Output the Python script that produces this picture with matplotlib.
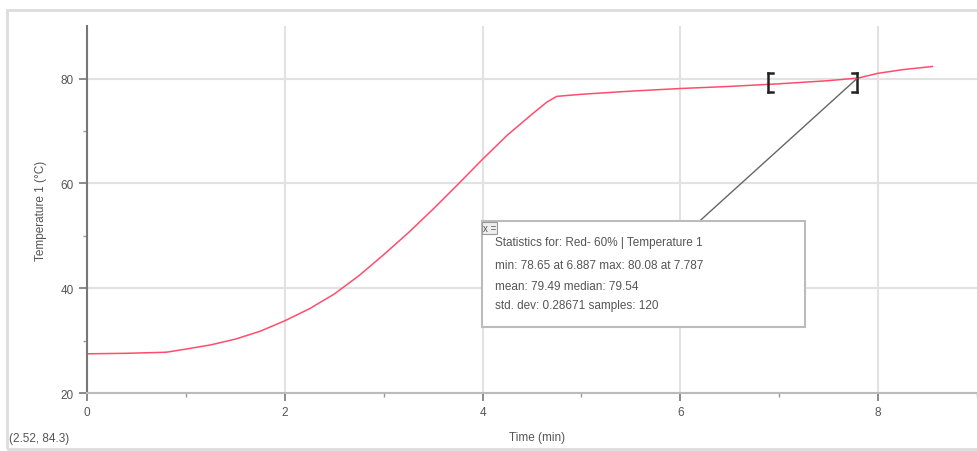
import matplotlib.pyplot as plt
from matplotlib.patches import Rectangle

# temperature run
time_min = [0.0, 0.4, 0.8, 1.0, 1.25, 1.5, 1.75, 2.0, 2.25, 2.5, 2.75, 3.0, 3.25, 3.5,
            3.75, 4.0, 4.25, 4.5, 4.65, 4.75, 5.0, 5.5, 6.0, 6.5, 7.0, 7.5, 7.8, 8.0, 8.25, 8.55]
temp_c = [27.5, 27.6, 27.8, 28.4, 29.2, 30.3, 31.8, 33.8, 36.1, 38.9, 42.4, 46.4, 50.6, 55.1,
          59.8, 64.6, 69.2, 73.2, 75.5, 76.6, 77.0, 77.6, 78.1, 78.5, 79.0, 79.6, 80.1, 81.0, 81.7, 82.3]

sel_start, sel_end = 6.887, 7.787
stats_lines = ["Statistics for: Red- 60% | Temperature 1",
               "min: 78.65 at 6.887 max: 80.08 at 7.787",
               "mean: 79.49 median: 79.54",
               "std. dev: 0.28671 samples: 120"]
cursor_text = "(2.52, 84.3)"

plt.rcParams['font.family'] = ['Liberation Sans', 'DejaVu Sans']
txt = '#555555'

fig = plt.figure(figsize=(9.78, 4.52), dpi=100)
ax = fig.add_axes([0.089, 0.128, 0.92, 0.812])
ax.plot(time_min, temp_c, color='#ff4d6d', lw=1.1)

ax.set_xlim(0, 9.1)
ax.set_ylim(20, 90)
ax.set_xticks([0, 2, 4, 6, 8])
ax.set_xticks([1, 3, 5, 7, 9], minor=True)
ax.set_yticks([20, 40, 60, 80])
ax.set_yticks([30, 50, 70], minor=True)
ax.grid(True, which='major', color='#e2e2e2', lw=1.5)
ax.set_axisbelow(True)
for s in ['top', 'right']:
    ax.spines[s].set_visible(False)
ax.spines['left'].set_color('#777777')
ax.spines['left'].set_linewidth(1.5)
ax.spines['bottom'].set_color('#bbbbbb')
ax.spines['bottom'].set_linewidth(1.5)
ax.tick_params(which='major', length=6, width=1.2, color='#777777', labelsize=8.5, labelcolor=txt)
ax.tick_params(which='minor', length=3, width=1, color='#999999')
ax.set_xlabel("Time (min)", fontsize=8.5, color=txt, labelpad=9)
ax.set_ylabel("Temperature 1 (°C)", fontsize=8.5, color=txt, labelpad=10)

# selection brackets
for xb, side in [(sel_start, 1), (sel_end, -1)]:
    ax.plot([xb, xb], [77.5, 81.0], color='#222222', lw=1.8)
    ax.plot([xb, xb + side * 0.05], [81.0, 81.0], color='#222222', lw=1.8)
    ax.plot([xb, xb + side * 0.05], [77.5, 77.5], color='#222222', lw=1.8)

# leader line to stats box
ax.plot([sel_end, 6.2], [80.0, 52.9], color='#666666', lw=1)

# stats box
box = Rectangle((0.493, 0.274), 0.330, 0.235, transform=fig.transFigure,
                facecolor='white', edgecolor='#bbbbbb', lw=1.5, zorder=5)
fig.patches.append(box)
fig.text(0.494, 0.493, "x =", fontsize=7, color=txt, zorder=6, va='center',
         bbox=dict(facecolor='#eeeeee', edgecolor='#999999', pad=0.5, lw=0.8))
for i, line in enumerate([0.462, 0.412, 0.364, 0.322]):
    fig.text(0.506, line, stats_lines[i], fontsize=8.5, color=txt, va='center', zorder=6)

fig.text(0.009, 0.022, cursor_text, fontsize=8.5, color=txt)

# outer frame
frame = Rectangle((0.007, 0.005), 1.2, 0.97, transform=fig.transFigure,
                  facecolor='none', edgecolor='#dddddd', lw=2)
fig.patches.append(frame)

fig.savefig("out.png", dpi=100)
